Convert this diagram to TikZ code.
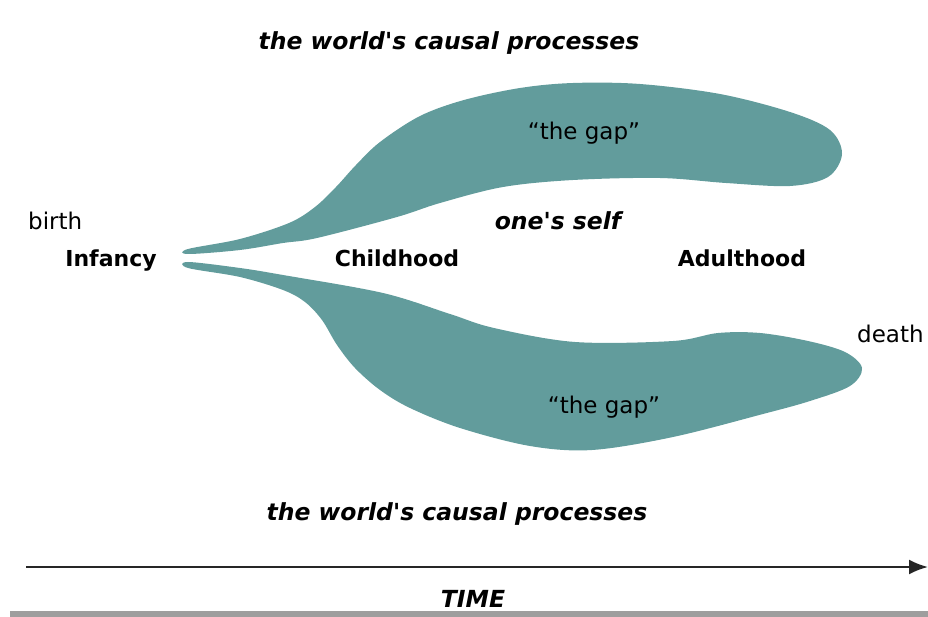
\documentclass[tikz,border=0pt]{standalone}
\usepackage{fontspec}
\setmainfont{DejaVu Sans}
\usetikzlibrary{arrows.meta}
\definecolor{gapteal}{RGB}{98,156,156}
\definecolor{bargray}{RGB}{158,158,158}

\tikzset{
  plaintext/.style={font=\fontsize{23}{27}\selectfont, inner sep=0pt, anchor=base},
  agetext/.style={font=\bfseries\fontsize{22}{26}\selectfont, inner sep=0pt, anchor=base},
  worldtext/.style={font=\bfseries\itshape\fontsize{23.5}{28}\selectfont, inner sep=0pt, anchor=base},
  gapblob/.style={fill=gapteal, draw=none},
}

\begin{document}
\begin{tikzpicture}[x=1pt, y=-1pt]

  \useasboundingbox (0,0) rectangle (928,617);

  % upper gap
  \fill[gapblob] plot[smooth cycle, tension=0.55] coordinates {
    (188,249) (240,239) (289,223) (315,207) (336,187) (356,165) (380,142)
    (420,116) (464,100) (520,88) (573,83) (640,84) (720,94) (790,112)
    (830,130) (842,154) (828,177) (790,186) (726,183) (660,178) (573,180)
    (503,187) (440,203) (397,217) (317,238) (283,243) (240,250) (188,254)};

  % lower gap
  \fill[gapblob] plot[smooth cycle, tension=0.55] coordinates {
    (188,262) (240,268) (283,275) (383,293) (450,314) (494,328) (575,342)
    (673,341) (718,333) (760,333) (808,341) (845,352) (862,368) (850,386)
    (810,401) (763,414) (673,437) (592,450) (530,446) (460,428) (410,408)
    (380,390) (355,368) (337,345) (322,320) (305,302) (283,290) (240,277)
    (188,268)};

  \node[worldtext] (worldtop) at (449,50) {the world\textquotesingle s causal processes};
  \node[plaintext] (gaptop) at (584,140) {``the gap''};

  \node[plaintext, anchor=base west] (birth) at (28,230) {birth};
  \node[worldtext] (self) at (558,230) {one\textquotesingle s self};

  \node[agetext] (infancy) at (111,267) {Infancy};
  \node[agetext] (childhood) at (397,267) {Childhood};
  \node[agetext] (adulthood) at (742,267) {Adulthood};

  \node[plaintext, anchor=base west] (death) at (857,342) {death};
  \node[plaintext] (gapbottom) at (604,413) {``the gap''};

  \node[worldtext] (worldbottom) at (457,520) {the world\textquotesingle s causal processes};

  \coordinate (start) at (26,567);
  \coordinate (end) at (928,567);
  \draw[-{Latex[length=19pt, width=15pt]}, line width=2.2pt, black!85] (start) -- (end);
  \node[worldtext] (time) at (473,607) {TIME};

  \fill[bargray] (10,611) rectangle (928,617);

\end{tikzpicture}
\end{document}
